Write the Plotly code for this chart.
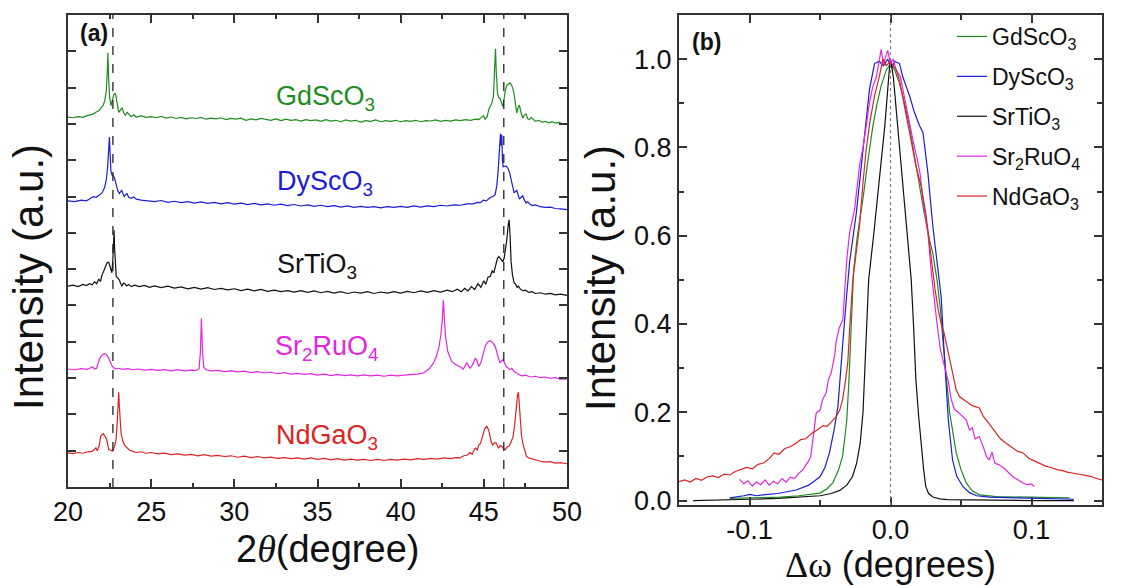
import plotly.graph_objects as go

W, H = 1136, 586

# ---------------- Panel (a): XRD theta-2theta scans (stacked, arbitrary units) ----------------
names = ["GdScO<sub>3</sub>", "DyScO<sub>3</sub>", "SrTiO<sub>3</sub>", "Sr<sub>2</sub>RuO<sub>4</sub>", "NdGaO<sub>3</sub>"]
colors = ["#1f8c1f", "#1c1cd6", "#111111", "#e326e3", "#dc2424"]

gd_a = [(20.0,10.19),(20.3,10.17),(20.6,10.2),(20.9,10.18),(21.1,10.22),(21.3,10.25),(21.5,10.27),(21.7,10.33),
        (21.85,10.36),(22.0,10.45),(22.1,10.5),(22.2,10.62),(22.3,10.9),(22.36,11.4),(22.4,11.96),(22.44,11.3),
        (22.5,10.75),(22.58,10.5),(22.65,10.62),(22.75,10.8),(22.85,10.85),(22.95,10.6),(23.05,10.32),(23.15,10.38),
        (23.25,10.45),(23.35,10.3),(23.45,10.24),(23.55,10.32),(23.65,10.26),(23.8,10.2),(23.95,10.25),(24.1,10.19),
        (24.4,10.22),(24.7,10.18),(25.0,10.2),(25.3,10.17),(25.6,10.21),(25.9,10.16),(26.2,10.19),(26.5,10.15),
        (26.8,10.18),(27.1,10.14),(27.4,10.17),(27.7,10.15),(28.0,10.18),(28.3,10.13),(28.6,10.16),(28.9,10.14),
        (29.2,10.17),(29.5,10.12),(29.8,10.15),(30.1,10.13),(30.4,10.16),(30.7,10.1),(31.0,10.14),(31.3,10.11),
        (31.6,10.15),(31.9,10.12),(32.2,10.1),(32.5,10.14),(32.8,10.09),(33.1,10.13),(33.4,10.1),(33.7,10.12),
        (34.0,10.08),(34.3,10.12),(34.6,10.09),(34.9,10.11),(35.2,10.07),(35.5,10.12),(35.8,10.08),(36.1,10.1),
        (36.4,10.06),(36.7,10.11),(37.0,10.08),(37.3,10.1),(37.6,10.05),(37.9,10.09),(38.2,10.07),(38.5,10.11),
        (38.8,10.06),(39.1,10.09),(39.4,10.07),(39.7,10.1),(40.0,10.06),(40.3,10.09),(40.6,10.07),(40.9,10.1),
        (41.2,10.06),(41.5,10.09),(41.8,10.08),(42.1,10.11),(42.4,10.07),(42.7,10.1),(43.0,10.08),(43.3,10.11),
        (43.6,10.09),(43.9,10.12),(44.2,10.1),(44.5,10.13),(44.7,10.12),(44.85,10.18),(44.97,10.22),(45.08,10.13),
        (45.2,10.2),(45.3,10.4),(45.4,10.5),(45.5,10.6),(45.58,10.78),(45.64,11.3),(45.7,12.07),(45.75,11.4),
        (45.82,10.85),(45.9,10.72),(45.98,10.7),(46.06,10.58),(46.14,10.48),(46.22,10.7),(46.3,10.95),(46.4,11.07),
        (46.5,11.12),(46.58,11.13),(46.66,11.08),(46.74,10.98),(46.82,10.82),(46.9,10.5),(46.98,10.3),(47.06,10.45),
        (47.14,10.52),(47.24,10.3),(47.34,10.16),(47.44,10.25),(47.54,10.27),(47.64,10.14),(47.74,10.12),(47.84,10.18),
        (47.94,10.13),(48.1,10.07),(48.3,10.1),(48.5,10.05),(48.7,10.07),(48.9,10.03),(49.1,10.06),(49.3,10.02),
        (49.5,10.04),(49.7,10.01),(50.0,10.0)]

dy_a = [(20.0,7.88),(20.4,7.86),(20.8,7.9),(21.1,7.88),(21.3,7.93),(21.5,8.0),(21.7,7.98),(21.9,8.05),(22.05,8.1),
        (22.2,8.25),(22.3,8.45),(22.38,8.8),(22.45,9.3),(22.49,9.64),(22.53,9.2),(22.58,8.7),(22.64,8.6),(22.72,8.58),
        (22.8,8.5),(22.9,8.3),(23.0,8.15),(23.09,8.08),(23.16,8.15),(23.23,8.18),(23.3,8.08),(23.38,8.0),(23.46,8.05),
        (23.55,8.08),(23.65,7.98),(23.8,7.95),(23.95,7.99),(24.1,7.93),(24.4,7.9),(24.8,7.88),(25.2,7.86),(25.6,7.89),
        (26.0,7.84),(26.4,7.87),(26.8,7.83),(27.2,7.86),(27.6,7.82),(28.0,7.85),(28.4,7.81),(28.8,7.84),(29.2,7.8),
        (29.6,7.83),(30.0,7.79),(30.4,7.82),(30.8,7.78),(31.2,7.81),(31.6,7.77),(32.0,7.8),(32.4,7.76),(32.8,7.79),
        (33.2,7.75),(33.6,7.78),(34.0,7.74),(34.4,7.77),(34.8,7.73),(35.2,7.76),(35.6,7.72),(36.0,7.75),(36.4,7.71),
        (36.8,7.74),(37.2,7.7),(37.6,7.73),(38.0,7.7),(38.4,7.72),(38.8,7.69),(39.2,7.72),(39.6,7.7),(40.0,7.73),
        (40.4,7.7),(40.8,7.74),(41.2,7.71),(41.6,7.74),(42.0,7.72),(42.4,7.76),(42.8,7.74),(43.2,7.77),(43.6,7.76),
        (44.0,7.8),(44.37,7.8),(44.6,7.84),(44.8,7.83),(44.97,7.9),(45.15,7.88),(45.38,7.97),(45.55,8.0),(45.68,8.05),
        (45.78,8.3),(45.86,8.7),(45.94,9.2),(46.0,9.73),(46.04,9.4),(46.08,9.7),(46.12,9.0),(46.16,8.82),(46.25,8.84),
        (46.35,8.83),(46.45,8.78),(46.55,8.66),(46.65,8.45),(46.74,8.22),(46.82,8.1),(46.9,8.14),(46.98,8.17),
        (47.06,8.05),(47.14,7.93),(47.24,7.98),(47.34,8.02),(47.44,7.9),(47.54,7.82),(47.64,7.86),(47.74,7.8),
        (47.9,7.75),(48.1,7.77),(48.4,7.72),(48.7,7.7),(49.0,7.71),(49.3,7.67),(49.6,7.66),(50.0,7.64)]

sto_a = [(20.0,5.53),(20.3,5.56),(20.6,5.52),(20.9,5.58),(21.1,5.55),(21.3,5.6),(21.45,5.57),(21.6,5.65),(21.72,5.6),
         (21.85,5.73),(21.95,5.66),(22.05,5.85),(22.15,5.95),(22.25,6.08),(22.35,6.18),(22.45,6.19),(22.55,6.05),
         (22.64,5.9),(22.7,6.3),(22.74,6.9),(22.77,7.07),(22.8,6.6),(22.85,6.1),(22.9,5.8),(23.0,5.75),(23.09,5.7),
         (23.17,5.6),(23.25,5.53),(23.33,5.62),(23.42,5.6),(23.52,5.54),(23.65,5.58),(23.8,5.52),(24.0,5.56),
         (24.3,5.52),(24.6,5.55),(24.9,5.5),(25.2,5.54),(25.6,5.49),(26.0,5.53),(26.4,5.48),(26.8,5.51),(27.2,5.46),
         (27.6,5.5),(28.0,5.45),(28.4,5.49),(28.8,5.44),(29.2,5.47),(29.6,5.43),(30.0,5.46),(30.4,5.41),(30.8,5.45),
         (31.2,5.4),(31.6,5.44),(32.0,5.39),(32.4,5.42),(32.8,5.38),(33.2,5.41),(33.6,5.37),(34.0,5.41),(34.4,5.36),
         (34.8,5.4),(35.2,5.35),(35.6,5.39),(36.0,5.34),(36.4,5.38),(36.8,5.33),(37.2,5.37),(37.6,5.34),(38.0,5.38),
         (38.4,5.33),(38.8,5.37),(39.2,5.34),(39.6,5.38),(40.0,5.34),(40.4,5.39),(40.8,5.35),(41.2,5.4),(41.6,5.36),
         (42.0,5.41),(42.4,5.37),(42.8,5.42),(43.1,5.38),(43.4,5.45),(43.65,5.38),(43.85,5.47),(44.05,5.4),
         (44.25,5.52),(44.45,5.44),(44.65,5.6),(44.82,5.5),(45.0,5.68),(45.12,5.58),(45.25,5.78),(45.38,5.8),
         (45.5,5.95),(45.6,5.9),(45.72,6.15),(45.82,6.3),(45.9,6.35),(45.98,6.3),(46.06,6.26),(46.14,6.2),(46.22,6.3),
         (46.3,6.5),(46.38,6.8),(46.46,7.2),(46.52,7.36),(46.58,6.9),(46.64,6.2),(46.72,5.85),(46.82,5.62),
         (46.92,5.58),(47.0,5.5),(47.08,5.53),(47.2,5.45),(47.35,5.4),(47.5,5.42),(47.7,5.36),(47.9,5.38),(48.1,5.33),
         (48.4,5.35),(48.7,5.31),(49.0,5.33),(49.3,5.29),(49.6,5.31),(50.0,5.28)]

sro_a = [(20.0,3.25),(20.4,3.23),(20.8,3.26),(21.1,3.24),(21.3,3.27),(21.48,3.31),(21.6,3.25),(21.72,3.27),(21.82,3.42),
         (21.92,3.55),(22.05,3.63),(22.2,3.67),(22.32,3.64),(22.45,3.55),(22.58,3.4),(22.7,3.3),(22.85,3.25),(23.0,3.27),
         (23.3,3.24),(23.6,3.26),(23.9,3.23),(24.2,3.25),(24.6,3.22),(25.0,3.24),(25.4,3.21),(25.8,3.23),(26.2,3.2),
         (26.6,3.23),(27.0,3.2),(27.4,3.22),(27.7,3.21),(27.88,3.26),(27.96,3.7),(28.02,4.65),(28.08,3.8),(28.16,3.3),
         (28.3,3.23),(28.6,3.2),(29.0,3.21),(29.4,3.18),(29.8,3.2),(30.2,3.17),(30.6,3.19),(31.0,3.15),(31.4,3.18),
         (31.8,3.14),(32.2,3.16),(32.6,3.12),(33.0,3.15),(33.4,3.11),(33.8,3.13),(34.2,3.1),(34.6,3.12),(35.0,3.08),
         (35.4,3.11),(35.8,3.07),(36.2,3.1),(36.6,3.07),(37.0,3.09),(37.4,3.06),(37.8,3.09),(38.2,3.06),(38.6,3.08),
         (39.0,3.05),(39.4,3.08),(39.8,3.06),(40.2,3.08),(40.6,3.09),(41.0,3.11),(41.37,3.14),(41.7,3.25),(41.97,3.41),
         (42.15,3.6),(42.3,3.85),(42.42,4.2),(42.5,4.6),(42.57,5.14),(42.63,4.6),(42.7,4.15),(42.83,3.73),(42.95,3.58),
         (43.07,3.46),(43.27,3.38),(43.47,3.34),(43.62,3.3),(43.77,3.25),(43.87,3.33),(43.97,3.42),(44.07,3.35),
         (44.17,3.27),(44.3,3.35),(44.42,3.5),(44.5,3.55),(44.6,3.45),(44.7,3.32),(44.82,3.42),(44.95,3.65),(45.1,3.9),
         (45.25,4.0),(45.38,4.03),(45.52,3.98),(45.68,3.88),(45.82,3.65),(45.96,3.42),(46.06,3.47),(46.16,3.51),
         (46.26,3.4),(46.36,3.31),(46.46,3.28),(46.56,3.23),(46.68,3.27),(46.8,3.19),(46.95,3.15),(47.1,3.1),
         (47.3,3.06),(47.5,3.08),(47.8,3.03),(48.1,3.05),(48.4,3.01),(48.7,3.03),(49.0,2.99),(49.3,3.01),(49.6,2.97),
         (50.0,2.98)]

ngo_a = [(20.0,0.94),(20.3,0.92),(20.6,0.95),(20.9,0.93),(21.2,0.97),(21.45,0.98),(21.6,1.04),(21.68,1.08),(21.76,1.0),
         (21.85,1.1),(21.98,1.41),(22.12,1.47),(22.25,1.38),(22.33,1.3),(22.45,1.03),(22.57,1.01),(22.69,0.99),
         (22.8,1.12),(22.89,1.31),(22.96,1.8),(23.02,2.5),(23.05,2.61),(23.09,2.2),(23.14,1.75),(23.19,1.48),
         (23.29,1.28),(23.39,1.16),(23.55,1.08),(23.69,1.02),(23.9,0.98),(24.1,0.95),(24.4,0.97),(24.7,0.93),
         (25.0,0.95),(25.4,0.91),(25.8,0.93),(26.2,0.89),(26.6,0.91),(27.0,0.88),(27.4,0.9),(27.8,0.86),(28.2,0.89),
         (28.6,0.85),(29.0,0.87),(29.4,0.84),(29.8,0.86),(30.2,0.82),(30.6,0.85),(31.0,0.81),(31.4,0.84),(31.8,0.8),
         (32.2,0.82),(32.6,0.79),(33.0,0.81),(33.4,0.78),(33.8,0.8),(34.2,0.77),(34.6,0.8),(35.0,0.76),(35.4,0.79),
         (35.8,0.75),(36.2,0.78),(36.6,0.74),(37.0,0.77),(37.4,0.74),(37.8,0.76),(38.2,0.73),(38.6,0.76),(39.0,0.73),
         (39.4,0.76),(39.8,0.74),(40.2,0.77),(40.6,0.75),(41.0,0.78),(41.4,0.76),(41.8,0.79),(42.2,0.77),(42.6,0.8),
         (43.0,0.78),(43.3,0.81),(43.57,0.8),(43.8,0.86),(44.0,0.88),(44.17,0.95),(44.3,0.9),(44.42,1.03),(44.5,1.07),
         (44.6,1.02),(44.7,1.16),(44.8,1.2),(44.9,1.39),(45.05,1.6),(45.18,1.67),(45.28,1.58),(45.38,1.39),
         (45.46,1.22),(45.54,1.16),(45.64,1.22),(45.74,1.21),(45.82,1.12),(45.88,1.07),(45.98,1.14),(46.08,1.12),
         (46.18,1.06),(46.28,1.03),(46.4,1.1),(46.5,1.12),(46.62,1.22),(46.76,1.39),(46.85,1.7),(46.95,2.2),
         (47.03,2.55),(47.08,2.61),(47.13,2.3),(47.18,1.85),(47.26,1.45),(47.34,1.21),(47.45,1.0),(47.56,0.85),
         (47.7,0.8),(47.9,0.77),(48.16,0.75),(48.4,0.71),(48.7,0.69),(49.0,0.7),(49.3,0.66),(49.6,0.67),(50.0,0.64)]

# label anchor (2theta, stacked intensity) for each scan name
label_pos_a = [(35.5, 10.72), (35.45, 8.38), (34.95, 6.08), (35.6, 3.83), (35.6, 1.39)]
ref_lines_a = [22.7, 46.2]   # dashed substrate-peak guides

# ---------------- Panel (b): rocking curves ----------------
gd_b = [(-0.114,0.005),(-0.1,0.006),(-0.09,0.007),(-0.078,0.008),(-0.065,0.011),(-0.057,0.014),(-0.05,0.017),
        (-0.045,0.027),(-0.041,0.04),(-0.037,0.068),(-0.034,0.1),(-0.0325,0.14),(-0.031,0.183),(-0.0295,0.27),
        (-0.0286,0.35),(-0.0275,0.45),(-0.0262,0.52),(-0.0235,0.6),(-0.0196,0.682),(-0.016,0.77),(-0.0125,0.849),
        (-0.0095,0.9),(-0.0066,0.94),(-0.003,0.975),(0.0,0.99),(0.003,0.975),(0.0064,0.945),(0.01,0.9),
        (0.0135,0.849),(0.017,0.78),(0.0206,0.712),(0.024,0.65),(0.0277,0.59),(0.030,0.56),(0.033,0.5),
        (0.0355,0.43),(0.0375,0.35),(0.040,0.26),(0.042,0.198),(0.0445,0.15),(0.0466,0.108),(0.050,0.07),
        (0.0537,0.04),(0.058,0.022),(0.063,0.013),(0.075,0.009),(0.0866,0.008),(0.1,0.007),(0.115,0.006),(0.127,0.006)]

dy_b = [(-0.114,0.006),(-0.109,0.008),(-0.104,0.011),(-0.0997,0.014),(-0.095,0.011),(-0.0905,0.013),(-0.08,0.016),
        (-0.0669,0.024),(-0.058,0.035),(-0.05,0.054),(-0.0465,0.075),(-0.0433,0.108),(-0.04,0.16),(-0.0373,0.213),
        (-0.0355,0.28),(-0.034,0.35),(-0.0315,0.45),(-0.029,0.54),(-0.0243,0.65),(-0.0196,0.796),(-0.0149,0.932),
        (-0.0113,0.99),(-0.008,0.995),(-0.005,0.985),(-0.002,1.0),(0.001,0.98),(0.003,0.995),(0.0064,0.99),
        (0.0087,0.96),(0.0115,0.935),(0.0135,0.917),(0.017,0.879),(0.0206,0.849),(0.023,0.834),(0.0265,0.743),
        (0.030,0.622),(0.0336,0.531),(0.036,0.46),(0.0378,0.35),(0.0395,0.25),(0.041,0.183),(0.044,0.092),
        (0.047,0.055),(0.0513,0.032),(0.056,0.018),(0.061,0.011),(0.07,0.008),(0.09,0.006),(0.11,0.004),(0.13,0.003)]

sto_b = [(-0.14,0.0),(-0.12,0.001),(-0.1,0.003),(-0.08,0.005),(-0.06,0.008),(-0.05,0.011),(-0.042,0.016),
         (-0.036,0.023),(-0.031,0.035),(-0.027,0.054),(-0.024,0.085),(-0.0215,0.13),(-0.0195,0.2),(-0.0178,0.32),
         (-0.0165,0.42),(-0.0155,0.5),(-0.012,0.6),(-0.008,0.72),(-0.004,0.85),(-0.001,0.97),(0.0,1.0),
         (0.002,0.96),(0.005,0.85),(0.009,0.7),(0.012,0.6),(0.0147,0.5),(0.0163,0.4),(0.018,0.274),(0.02,0.19),
         (0.0218,0.123),(0.0235,0.07),(0.025,0.032),(0.027,0.016),(0.03,0.008),(0.035,0.004),(0.04,0.002),
         (0.06,0.001),(0.1,0.0),(0.13,0.0)]

sro_b = [(-0.107,0.048),(-0.104,0.038),(-0.101,0.045),(-0.098,0.033),(-0.095,0.042),(-0.092,0.036),(-0.089,0.047),
         (-0.086,0.035),(-0.083,0.044),(-0.08,0.038),(-0.077,0.05),(-0.074,0.042),(-0.071,0.053),(-0.068,0.05),
         (-0.065,0.062),(-0.062,0.07),(-0.06,0.081),(-0.058,0.09),(-0.0565,0.1),(-0.055,0.138),(-0.054,0.16),
         (-0.0527,0.198),(-0.05,0.205),(-0.048,0.23),(-0.0456,0.244),(-0.044,0.274),(-0.042,0.29),(-0.0397,0.327),
         (-0.0385,0.36),(-0.0365,0.39),(-0.0338,0.41),(-0.0321,0.5),(-0.031,0.546),(-0.029,0.607),(-0.0275,0.63),
         (-0.0255,0.659),(-0.022,0.758),(-0.0195,0.8),(-0.0172,0.849),(-0.015,0.9),(-0.0125,0.939),(-0.01,0.96),
         (-0.0066,1.022),(-0.005,0.99),(-0.002,1.02),(0.0,0.99),(0.002,1.0),(0.004,0.975),(0.007,0.96),(0.01,0.91),
         (0.0123,0.871),(0.0158,0.818),(0.019,0.773),(0.021,0.74),(0.023,0.682),(0.0265,0.607),(0.029,0.516),
         (0.031,0.455),(0.033,0.4),(0.0355,0.34),(0.0371,0.319),(0.039,0.3),(0.041,0.27),(0.043,0.23),(0.0454,0.206),
         (0.048,0.2),(0.051,0.19),(0.0537,0.183),(0.056,0.16),(0.058,0.165),(0.06,0.14),(0.063,0.145),(0.066,0.12),
         (0.068,0.1),(0.07,0.092),(0.072,0.11),(0.074,0.085),(0.077,0.081),(0.08,0.075),(0.083,0.065),(0.0868,0.054),
         (0.09,0.048),(0.094,0.04),(0.097,0.036),(0.1,0.038),(0.102,0.032)]

ngo_b = [(-0.15,0.043),(-0.146,0.047),(-0.142,0.042),(-0.138,0.05),(-0.134,0.046),(-0.13,0.054),(-0.126,0.056),
         (-0.122,0.052),(-0.118,0.06),(-0.114,0.058),(-0.11,0.066),(-0.106,0.07),(-0.102,0.075),(-0.098,0.072),
         (-0.094,0.082),(-0.09,0.085),(-0.086,0.095),(-0.0826,0.108),(-0.079,0.105),(-0.075,0.118),(-0.071,0.122),
         (-0.067,0.13),(-0.0637,0.138),(-0.06,0.14),(-0.056,0.152),(-0.0519,0.16),(-0.048,0.17),(-0.045,0.168),
         (-0.0415,0.18),(-0.0385,0.19),(-0.036,0.205),(-0.034,0.228),(-0.032,0.27),(-0.0303,0.312),(-0.029,0.387),
         (-0.0267,0.5),(-0.024,0.57),(-0.022,0.622),(-0.0195,0.72),(-0.0172,0.796),(-0.0145,0.86),(-0.0113,0.917),
         (-0.008,0.96),(-0.0054,1.0),(-0.003,0.985),(0.0,0.995),(0.002,0.985),(0.004,0.977),(0.0065,0.95),
         (0.0087,0.917),(0.011,0.875),(0.0135,0.834),(0.016,0.79),(0.018,0.758),(0.0218,0.712),(0.025,0.652),
         (0.027,0.6),(0.029,0.546),(0.0315,0.48),(0.034,0.43),(0.036,0.4),(0.038,0.38),(0.04,0.35),(0.042,0.32),
         (0.0445,0.28),(0.0466,0.251),(0.049,0.235),(0.052,0.228),(0.0548,0.221),(0.058,0.215),(0.063,0.21),
         (0.066,0.19),(0.0685,0.18),(0.0714,0.168),(0.075,0.155),(0.078,0.14),(0.082,0.13),(0.086,0.12),(0.09,0.112),
         (0.094,0.108),(0.098,0.096),(0.102,0.09),(0.1057,0.085),(0.11,0.078),(0.114,0.075),(0.118,0.07),
         (0.122,0.068),(0.126,0.064),(0.13,0.062),(0.134,0.06),(0.138,0.058),(0.142,0.055),(0.146,0.05),(0.15,0.047)]

ref_line_b = 0.0

x_ticks_b = [-0.1, 0.0, 0.1]
x_ticktext_b = ["-0.1", "0.0", "0.1"]

series_a = [gd_a, dy_a, sto_a, sro_a, ngo_a]
series_b = [gd_b, dy_b, sto_b, sro_b, ngo_b]

FONT = "Liberation Sans, Arial, sans-serif"
AX = "#333333"

fig = go.Figure()
for nm, col, d in zip(names, colors, series_a):
    fig.add_trace(go.Scatter(x=[p[0] for p in d], y=[p[1] for p in d], mode="lines",
                             line=dict(color=col, width=1.2), showlegend=False,
                             xaxis="x", yaxis="y", hoverinfo="skip"))
for i, (nm, col, d) in enumerate(zip(names, colors, series_b)):
    fig.add_trace(go.Scatter(x=[p[0] for p in d], y=[p[1] for p in d], mode="lines", name=nm,
                             legendgroup="g%d" % i,
                             line=dict(color=col, width=1.2), xaxis="x2", yaxis="y2", hoverinfo="skip"))

common = dict(showline=True, linecolor=AX, linewidth=2, mirror="allticks", ticks="inside",
              tickcolor=AX, tickwidth=1.6, showgrid=False, zeroline=False, automargin=False,
              tickfont=dict(family=FONT, size=27, color="#111"))

fig.update_layout(
    template="none",
    width=W, height=H, autosize=False,
    margin=dict(l=0, r=0, t=0, b=0, pad=0),
    paper_bgcolor="white", plot_bgcolor="white",
    font=dict(family=FONT, color="#111"),
    xaxis=dict(domain=[68/W, 567/W], range=[20, 50], tick0=20, dtick=5, ticklen=8,
               minor=dict(dtick=2.5, tick0=20, ticklen=4, ticks="inside", tickcolor=AX, tickwidth=1.6),
               anchor="y", **common),
    yaxis=dict(domain=[(H-487)/H, (H-15)/H], range=[0, 13], tick0=0, dtick=1, ticklen=8,
               showticklabels=False, anchor="x", **common),
    xaxis2=dict(domain=[679/W, 1102/W], range=[-0.15, 0.15], tickmode="array", tickvals=x_ticks_b,
                ticktext=x_ticktext_b, ticklen=8,
                minor=dict(tickmode="linear", tick0=0, dtick=0.05, ticklen=5, ticks="inside",
                           tickcolor=AX, tickwidth=1.6),
                anchor="y2", **common),
    yaxis2=dict(domain=[(H-505)/H, (H-15)/H], range=[-0.01, 1.10], tick0=0, dtick=0.2, tickformat=".1f",
                ticklen=8, minor=dict(dtick=0.1, tick0=0, ticklen=5, ticks="inside", tickcolor=AX, tickwidth=1.6),
                anchor="x2", **common),
    legend=dict(x=952/W, y=1-15/H, xanchor="left", yanchor="top", bgcolor="rgba(0,0,0,0)",
                font=dict(family=FONT, size=23, color="#111"), tracegroupgap=7, itemwidth=30),
)

shapes = []
for xv in ref_lines_a:
    shapes.append(dict(type="line", xref="x", yref="y domain", x0=xv, x1=xv, y0=0, y1=1,
                       line=dict(color="#222", width=1.3, dash="dash")))
shapes.append(dict(type="line", xref="x2", yref="y2 domain", x0=ref_line_b, x1=ref_line_b, y0=0, y1=1,
                   line=dict(color="#777", width=1.1, dash="dot")))
fig.update_layout(shapes=shapes)

def pann(px, py, text, size, angle=0, col="#111"):
    return dict(x=px/W, y=1-py/H, xref="paper", yref="paper", text=text, showarrow=False,
                xanchor="center", yanchor="middle", textangle=angle,
                font=dict(family=FONT, size=size, color=col))

ann = []
for nm, col, (lx, ly) in zip(names, colors, label_pos_a):
    ann.append(dict(x=lx, y=ly, xref="x", yref="y", text=nm, showarrow=False, xanchor="center", yanchor="middle",
                    font=dict(family=FONT, size=27, color=col)))
ann.append(pann(94, 33, "<b>(a)</b>", 23))
ann.append(pann(706, 42, "<b>(b)</b>", 23))
ann.append(pann(327, 549, "2<span style=\"font-family:'Liberation Serif'\"><i>θ</i></span>(degree)", 38))
ann.append(pann(890, 564, "<span style=\"font-family:'Liberation Serif'\">Δω</span> (degrees)", 36))
ann.append(pann(28, 277, "Intensity (a.u.)", 42, -90))
ann.append(pann(600, 278, "Intensity (a.u.)", 42, -90))
fig.update_layout(annotations=ann)

fig.write_html("out.html", config={"displayModeBar": False},
               post_script="document.body.style.margin='0px';document.body.style.overflow='hidden';")
